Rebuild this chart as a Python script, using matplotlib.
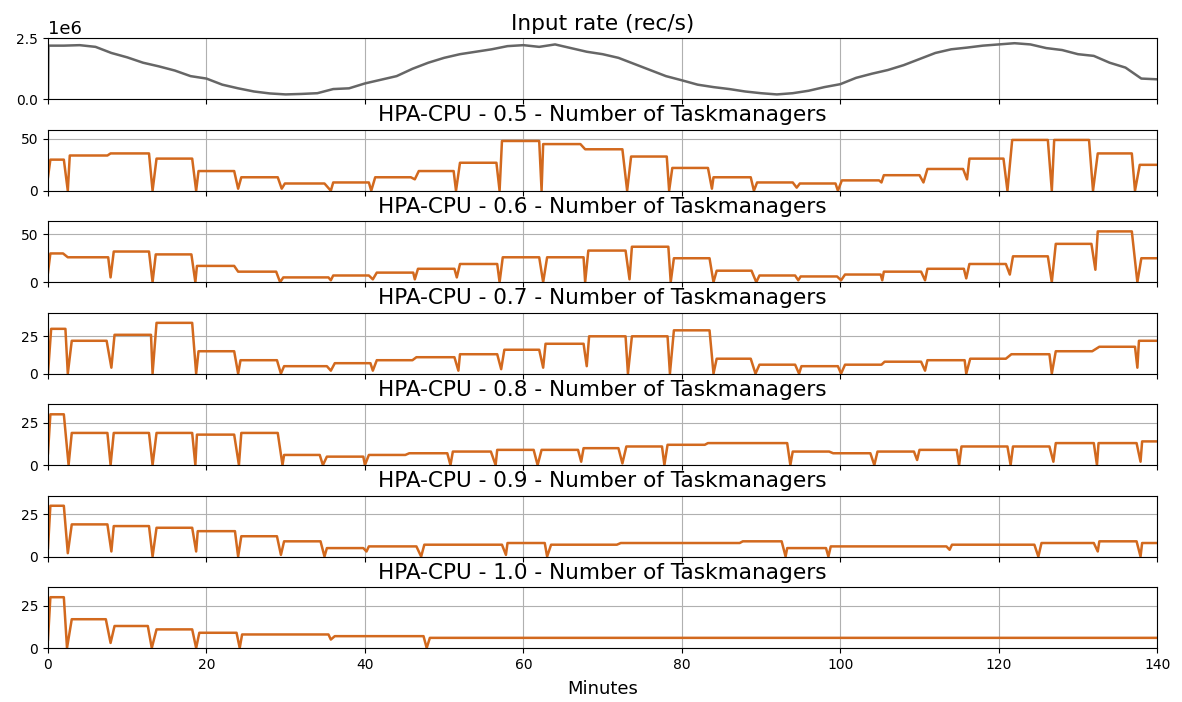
import numpy as np
import matplotlib
matplotlib.use("Agg")
import matplotlib.pyplot as plt

# Input rate (rec/s), read roughly every 2 minutes
rate_minutes = [0, 0.05, 2, 4, 6, 8, 10, 12, 14, 16, 18, 20, 22, 24, 26, 28, 30, 32, 34, 36, 38,
                40, 42, 44, 46, 48, 50, 52, 54, 56, 58, 60, 62, 64, 66, 68, 70, 72, 74, 76,
                78, 80, 82, 84, 86, 88, 90, 92, 94, 96, 98, 100, 102, 104, 106, 108, 110,
                112, 114, 116, 118, 120, 122, 124, 126, 128, 130, 132, 134, 136, 138, 140]
rate_values = [0.0, 2.2, 2.2, 2.22, 2.15, 1.9, 1.72, 1.5, 1.35, 1.18, 0.95, 0.85, 0.6, 0.45,
               0.32, 0.24, 0.2, 0.22, 0.25, 0.42, 0.45, 0.65, 0.8, 0.95, 1.25, 1.5, 1.7, 1.85,
               1.95, 2.05, 2.18, 2.22, 2.15, 2.25, 2.1, 1.95, 1.85, 1.7, 1.45, 1.2, 0.95, 0.78,
               0.6, 0.5, 0.42, 0.32, 0.25, 0.2, 0.25, 0.35, 0.5, 0.62, 0.88, 1.05, 1.2, 1.4,
               1.65, 1.9, 2.05, 2.12, 2.2, 2.25, 2.3, 2.25, 2.1, 2.02, 1.85, 1.78, 1.5, 1.3,
               0.85, 0.82]

# Number of taskmanagers per threshold: (minute, count) breakpoints
tm_05 = [(0, 13), (0.3, 30), (2.0, 30), (2.5, 0), (2.75, 34), (7.5, 34), (7.9, 36), (12.75, 36),
         (13.2, 0), (13.7, 31), (18.2, 31), (18.7, 0), (19.0, 19), (23.5, 19), (24.0, 2),
         (24.4, 13), (29.0, 13), (29.5, 2), (29.9, 7), (34.9, 7), (35.7, 0), (36.0, 8),
         (40.5, 8), (40.8, 0), (41.3, 13), (45.8, 13), (46.3, 11), (46.8, 19), (51.2, 19),
         (51.5, 0), (52.0, 27), (56.6, 27), (57.0, 0), (57.3, 48), (62.0, 48), (62.3, 0),
         (62.5, 45), (67.2, 45), (67.8, 40), (72.5, 40), (73.1, 0), (73.6, 33), (78.1, 33),
         (78.4, 0), (78.8, 22), (83.3, 22), (83.8, 2), (84.0, 13), (88.7, 13), (89.1, 0),
         (89.5, 8), (94.0, 8), (94.5, 3), (94.9, 7), (99.4, 7), (99.7, 0), (100.2, 10),
         (104.9, 10), (105.2, 8), (105.5, 15), (110.0, 15), (110.5, 8), (111.0, 21),
         (115.5, 21), (116.0, 11), (116.3, 31), (120.6, 31), (121.1, 0), (121.7, 49),
         (126.2, 49), (126.7, 0), (127.0, 49), (131.4, 49), (131.9, 0), (132.5, 36),
         (136.8, 36), (137.2, 0), (137.8, 25), (140, 25)]

tm_06 = [(0, 10), (0.3, 30), (1.9, 30), (2.5, 26), (7.6, 26), (7.9, 5), (8.3, 32), (12.75, 32),
         (13.2, 0), (13.6, 29), (18.1, 29), (18.6, 0), (18.8, 17), (23.5, 17), (24.0, 11),
         (28.8, 11), (29.3, 0), (29.7, 5), (35.4, 5), (35.7, 2), (36.0, 7), (40.5, 7),
         (41.0, 3), (41.5, 10), (46.1, 10), (46.3, 3), (46.7, 14), (51.3, 14), (51.6, 5),
         (52.0, 19), (56.7, 19), (57.0, 0), (57.4, 26), (62.0, 26), (62.5, 0), (63.0, 26),
         (67.6, 26), (67.8, 0), (68.2, 33), (72.9, 33), (73.4, 3), (73.7, 37), (78.3, 37),
         (78.6, 0), (79.0, 25), (83.5, 25), (84.0, 0), (84.4, 12), (88.8, 12), (89.4, 0),
         (89.8, 7), (94.3, 7), (94.7, 2), (95.0, 6), (99.6, 6), (100.1, 2), (100.6, 8),
         (105.1, 8), (105.3, 2), (105.5, 11), (110.2, 11), (110.7, 2), (111.0, 14),
         (115.6, 14), (115.9, 4), (116.3, 19), (120.9, 19), (121.4, 8), (121.8, 27),
         (126.2, 27), (126.7, 0), (127.2, 40), (131.7, 40), (132.2, 13), (132.5, 53),
         (136.8, 53), (137.5, 0), (138.0, 25), (140, 25)]

tm_07 = [(0, 0), (0.4, 30), (2.2, 30), (2.5, 0), (3.0, 22), (7.4, 22), (8.0, 4), (8.4, 26),
         (13.0, 26), (13.2, 0), (13.7, 34), (18.2, 34), (18.7, 0), (19.0, 15), (23.5, 15),
         (24.0, 0), (24.3, 9), (28.9, 9), (29.4, 0), (29.8, 5), (35.2, 5), (35.7, 2),
         (36.2, 7), (40.7, 7), (41.0, 2), (41.5, 9), (46.0, 9), (46.5, 11), (51.3, 11),
         (51.8, 2), (52.0, 13), (56.7, 13), (57.2, 3), (57.6, 16), (62.0, 16), (62.5, 4),
         (62.8, 20), (67.6, 20), (68.0, 5), (68.3, 25), (72.9, 25), (73.2, 0), (73.7, 25),
         (78.2, 25), (78.5, 0), (79.0, 29), (83.5, 29), (84.0, 0), (84.4, 10), (88.7, 10),
         (89.3, 0), (89.8, 6), (94.3, 6), (94.8, 0), (95.1, 5), (99.7, 5), (100.1, 0),
         (100.6, 6), (105.2, 6), (105.6, 8), (110.2, 8), (110.7, 2), (111.0, 9), (115.7, 9),
         (115.9, 0), (116.4, 10), (120.9, 10), (121.6, 13), (126.4, 13), (126.7, 0),
         (127.2, 15), (131.8, 15), (132.7, 18), (137.2, 18), (137.5, 4), (137.7, 22),
         (140, 22)]

tm_08 = [(0, 7), (0.3, 30), (2.0, 30), (2.6, 0), (3.0, 19), (7.5, 19), (7.9, 0), (8.3, 19),
         (12.75, 19), (13.2, 0), (13.7, 19), (18.2, 19), (18.6, 0), (18.8, 18), (23.5, 18),
         (24.1, 0), (24.4, 19), (29.0, 19), (29.6, 0), (29.8, 6), (34.3, 6), (34.7, 0),
         (35.2, 5), (39.8, 5), (40.0, 0), (40.5, 6), (45.1, 6), (45.6, 7), (50.4, 7),
         (50.8, 0), (51.1, 8), (55.9, 8), (56.5, 0), (56.7, 9), (61.3, 9), (61.8, 0),
         (62.3, 9), (66.9, 9), (67.3, 2), (67.6, 10), (72.0, 10), (72.5, 1), (73.0, 11),
         (77.5, 11), (77.8, 0), (78.2, 12), (82.9, 12), (83.3, 13), (93.3, 13), (93.7, 0),
         (94.0, 8), (98.6, 8), (99.1, 7), (103.8, 7), (104.3, 0), (104.7, 8), (109.3, 8),
         (109.7, 3), (110.0, 9), (114.7, 9), (115.0, 0), (115.3, 11), (121.1, 11),
         (121.5, 0), (121.8, 11), (126.4, 11), (126.9, 2), (127.2, 13), (132.0, 13),
         (132.4, 0), (132.6, 13), (137.4, 13), (137.9, 2), (138.1, 14), (140, 14)]

tm_09 = [(0, 5), (0.3, 30), (2.0, 30), (2.5, 2), (3.0, 19), (7.5, 19), (8.0, 3), (8.3, 18),
         (12.75, 18), (13.2, 0), (13.7, 17), (18.2, 17), (18.7, 3), (18.9, 15), (23.6, 15),
         (24.0, 0), (24.4, 12), (28.9, 12), (29.4, 1), (29.8, 9), (34.4, 9), (34.9, 0),
         (35.2, 5), (39.8, 5), (40.2, 3), (40.5, 6), (46.5, 6), (47.1, 0), (47.5, 7),
         (57.3, 7), (57.8, 1), (58.0, 8), (62.7, 8), (63.0, 0), (63.5, 7), (71.8, 7),
         (72.3, 8), (87.3, 8), (87.7, 9), (92.6, 9), (93.1, 0), (93.3, 5), (98.2, 5),
         (98.5, 0), (98.8, 6), (113.4, 6), (113.8, 4), (114.1, 7), (124.5, 7), (125.0, 0),
         (125.4, 8), (132.0, 8), (132.5, 3), (132.7, 9), (137.4, 9), (137.9, 0), (138.1, 8),
         (140, 8)]

tm_10 = [(0, 5), (0.3, 30), (2.0, 30), (2.4, 0), (3.0, 17), (7.3, 17), (7.9, 3), (8.4, 13),
         (12.6, 13), (13.1, 0), (13.7, 11), (18.2, 11), (18.7, 0), (19.1, 9), (23.8, 9),
         (24.2, 0), (24.5, 8), (35.4, 8), (35.7, 5), (36.2, 7), (47.4, 7), (47.8, 0),
         (48.2, 6), (140, 6)]

thresholds = ["0.5", "0.6", "0.7", "0.8", "0.9", "1.0"]
tm_series = [tm_05, tm_06, tm_07, tm_08, tm_09, tm_10]
tm_yticks = [[0, 50], [0, 50], [0, 25], [0, 25], [0, 25], [0, 25]]
x_ticks = [0, 20, 40, 60, 80, 100, 120, 140]

fig, axes = plt.subplots(7, 1, figsize=(11.82, 7.02), dpi=100, sharex=True)
fig.subplots_adjust(left=0.0406, right=0.979, top=0.9454, bottom=0.0769, hspace=0.5)

# Input rate
ax = axes[0]
ax.plot(rate_minutes, np.array(rate_values) * 1e6, color="#666666", linewidth=1.8)
ax.set_title("Input rate (rec/s)", fontsize=15.6)
ax.set_ylim(0, 2.5e6)
ax.set_yticks([0, 2.5e6])
ax.yaxis.get_offset_text().set_fontsize(13)
ax.grid(True, color="#b0b0b0", linewidth=0.8)

# Taskmanagers
for ax, thr, series, yt in zip(axes[1:], thresholds, tm_series, tm_yticks):
    t, v = zip(*series)
    ax.plot(t, v, color="#D2691E", linewidth=1.8)
    ax.set_title(f"HPA-CPU - {thr} - Number of Taskmanagers", fontsize=15.6)
    ax.set_ylim(0, max(v) * 1.2)
    ax.set_yticks(yt)
    ax.grid(True, color="#b0b0b0", linewidth=0.8)

axes[-1].set_xlim(0, 140)
axes[-1].set_xticks(x_ticks)
axes[-1].set_xlabel("Minutes", fontsize=13, labelpad=6)

plt.savefig("out.png", dpi=100)
